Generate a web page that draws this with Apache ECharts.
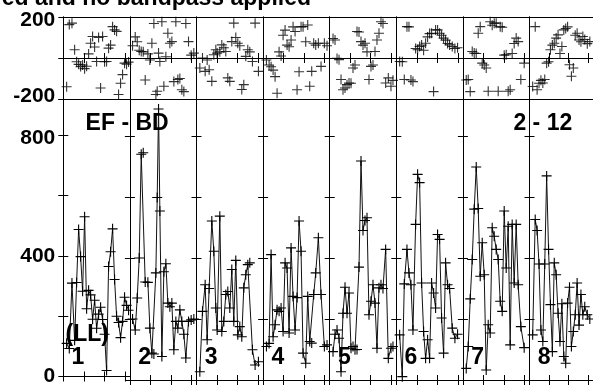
<!DOCTYPE html>
<html><head><meta charset="utf-8">
<script src="https://cdn.jsdelivr.net/npm/echarts@6/dist/echarts.min.js"></script>
<style>html,body{margin:0;padding:0;background:#fff;overflow:hidden}#c{width:593px;height:387px}</style>
</head><body><div id="c"></div>
<script>
// ---- data (time within each segment as fraction of the segment, amplitude, phase in degrees) ----
const segLabels = ['1','2','3','4','5','6','7','8'];
const phaseTicks = [-200, 0, 200];
const ampTicks = [0, 400, 800];

const t1 = [.05,.09,.13,.17,.20,.23,.26,.29,.32,.35,.38,.41,.44,.47,.50,.53,.56,.59,.62,.65,.68,.71,.74,.77,.80,.83,.86,.89,.92,.95,.98];
const amp1 = [110,93,310,120,312,488,398,283,530,225,286,271,190,253,160,207,230,189,140,20,365,414,490,322,200,179,129,183,263,236,220];
const ph1 = [-140,163,170,40,-18,-31,-42,-34,-52,-40,20,72,105,54,-17,100,-146,105,-18,-17,48,63,153,137,130,-178,-123,-81,-25,-30,-20];

const t2 = [.04,.08,.11,.14,.17,.20,.23,.27,.30,.33,.36,.39,.41,.43,.45,.48,.51,.54,.57,.60,.63,.66,.69,.72,.75,.78,.81,.84,.88,.92,.96];
const amp2 = [200,164,269,400,740,745,321,320,170,88,85,351,598,888,554,77,355,381,252,240,252,99,192,170,230,192,150,72,192,197,200];
const ph2 = [60,103,79,38,32,30,-107,20,-10,72,168,-178,-162,24,-17,177,-138,6,121,72,80,-115,177,-105,-100,-155,-164,168,80,14,24];

const t3 = [.05,.09,.13,.16,.19,.23,.26,.29,.31,.35,.38,.41,.44,.47,.50,.53,.56,.59,.62,.65,.68,.71,.74,.77,.80,.84,.88,.93];
const amp3 = [27,225,312,132,300,521,422,236,164,537,159,192,280,290,236,362,192,392,148,175,142,302,345,378,384,99,49,60];
const ph3 = [-49,0,-65,-10,-57,-114,16,40,24,30,64,50,32,-97,-114,80,170,100,72,60,-154,-130,8,40,30,-17,170,-65];

const t4 = [.05,.09,.12,.15,.18,.21,.24,.27,.30,.33,.36,.39,.42,.45,.48,.51,.54,.57,.60,.64,.67,.70,.73,.76,.79,.83,.87,.92,.96];
const amp4 = [110,120,411,142,181,230,225,236,159,384,367,154,433,274,164,270,521,422,88,55,274,126,121,280,351,466,280,110,115];
const ph4 = [-10,-34,-43,-59,-91,-172,30,10,111,136,63,55,88,152,129,-155,-67,152,153,79,161,-138,-65,72,63,72,-41,72,60];

const t5 = [.05,.08,.11,.14,.17,.20,.23,.26,.29,.32,.35,.38,.41,.44,.47,.50,.53,.56,.59,.62,.65,.68,.71,.74,.77,.80,.84,.88,.92,.95];
const amp5 = [93,150,164,137,27,219,304,219,285,104,110,99,100,370,718,490,523,532,214,258,312,252,104,302,312,300,428,71,104,110];
const ph5 = [95,88,-2,-8,-105,-155,-146,-130,-122,-123,-49,-34,129,127,80,63,72,30,-105,-41,-34,32,88,121,177,168,-122,-97,-138,-109];

const t6 = [.05,.09,.12,.16,.19,.22,.25,.29,.32,.35,.38,.41,.44,.47,.50,.53,.56,.59,.62,.65,.68,.71,.74,.77,.80,.84,.88,.92];
const amp6 = [148,11,315,428,351,312,164,510,674,647,318,159,71,132,71,318,285,236,477,461,203,88,384,312,300,170,137,150];
const ph6 = [-17,-18,-105,153,152,-107,-115,46,40,56,63,38,72,103,119,121,-164,137,137,121,111,97,87,71,64,56,46,50];

const t7 = [.05,.08,.11,.14,.17,.20,.23,.26,.29,.32,.35,.38,.41,.44,.47,.50,.53,.56,.59,.62,.65,.68,.71,.74,.77,.80,.83,.87,.92];
const amp7 = [38,110,266,395,560,698,562,340,450,345,33,181,154,499,471,428,395,258,225,554,367,504,115,510,318,510,312,175,106];
const ph7 = [-107,-105,-164,32,24,22,121,153,-25,-34,-49,-162,177,160,170,170,-162,153,150,14,16,-162,-155,22,71,97,80,-105,-25];

const t8 = [.05,.09,.12,.15,.18,.21,.24,.27,.30,.33,.36,.39,.42,.45,.48,.51,.54,.57,.60,.63,.66,.69,.72,.75,.78,.81,.84,.87,.91,.95];
const amp8 = [148,526,490,380,164,126,380,669,428,247,93,384,345,219,126,250,77,55,252,304,110,159,214,318,180,280,214,240,214,200];
const ph8 = [-139,153,-155,-123,-109,-122,-105,-25,-18,40,63,72,97,113,22,56,137,144,152,-33,-89,-49,111,121,88,79,105,90,70,80];

// ---- chart ----
const segs = [[t1,amp1,ph1],[t2,amp2,ph2],[t3,amp3,ph3],[t4,amp4,ph4],[t5,amp5,ph5],[t6,amp6,ph6],[t7,amp7,ph7],[t8,amp8,ph8]];
const FONT = '"Liberation Sans", Arial, Helvetica, sans-serif';
const X0 = 63.3, SW = 66.6, PTOP = 17, PH = 82, ATOP = 99, AH = 281;
const AMP_MAX = 921;
const plus = 'path://M0,5L10,5M5,0L5,10';
const axLine = {show:true, lineStyle:{color:'#000', width:1}};
const tick = {show:true, inside:true, length:5, lineStyle:{color:'#000', width:1}};

const grid = [], xAxis = [], yAxis = [], series = [];
segs.forEach((s, i) => {
  const left = X0 + SW * i;
  grid.push({left: left, top: PTOP, width: SW, height: PH});
  grid.push({left: left, top: ATOP, width: SW, height: AH});
  const gp = 2*i, ga = 2*i+1;
  const xa = (g, pos) => ({gridIndex:g, type:'value', min:0, max:1, interval:0.308, position:pos,
    axisLine:axLine, axisTick:tick, axisLabel:{show:false}, splitLine:{show:false}});
  xAxis.push(xa(gp,'bottom'), xa(gp,'top'), xa(ga,'bottom'), xa(ga,'top'));
  yAxis.push({gridIndex:gp, type:'value', min:-200, max:200, interval:200, position:'left',
    axisLine:axLine, axisTick:tick,
    splitLine:{show:true, lineStyle:{color:'#000', width:1}},
    axisLabel:{show:i===0, margin:8, color:'#000', fontFamily:FONT, fontWeight:'bold', fontSize:21,
      formatter: v => v === phaseTicks[2] ? '{a|' + v + '}' : (v === phaseTicks[0] ? '{b|' + v + '}' : ''),
      rich:{a:{fontFamily:FONT, fontWeight:'bold', fontSize:21, color:'#000', padding:[7,0,0,0]},
            b:{fontFamily:FONT, fontWeight:'bold', fontSize:21, color:'#000', padding:[0,0,5,0]}}}});
  yAxis.push({gridIndex:gp, type:'value', min:-200, max:200, interval:200, position:'right',
    axisLine:axLine, axisTick:tick, splitLine:{show:false}, axisLabel:{show:false}});
  yAxis.push({gridIndex:ga, type:'value', min:0, max:AMP_MAX, interval:200, position:'left',
    axisLine:axLine, axisTick:tick, splitLine:{show:false},
    axisLabel:{show:i===0, margin:8, color:'#000', fontFamily:FONT, fontWeight:'bold', fontSize:21,
      formatter: v => v === 800 ? '{c|800}' : (ampTicks.indexOf(v) >= 0 ? String(v) : ''),
      rich:{c:{fontFamily:FONT, fontWeight:'bold', fontSize:21, color:'#000', padding:[5,0,0,0]}}}});
  yAxis.push({gridIndex:ga, type:'value', min:0, max:AMP_MAX, interval:200, position:'right',
    axisLine:axLine, axisTick:tick, splitLine:{show:false}, axisLabel:{show:false}});

  const [t, a, p] = s;
  series.push({type:'scatter', xAxisIndex:4*i, yAxisIndex:4*i, symbol:plus, symbolSize:10,
    itemStyle:{color:'#000', borderColor:'#000', borderWidth:1.1}, silent:true,
    data: t.map((x, k) => [x, p[k]])});
  series.push({type:'line', xAxisIndex:4*i+2, yAxisIndex:4*i+2, symbol:plus, symbolSize:10, showSymbol:true,
    itemStyle:{color:'#000', borderColor:'#000', borderWidth:1.1}, lineStyle:{color:'#111', width:1},
    silent:true, animation:false, data: t.map((x, k) => [x, a[k]])});
});

const txt = (str, x, y, align) => ({type:'text', x:x, y:y, z:100,
  style:{text:str, fill:'#000', font:'bold 23px ' + FONT, textAlign:align||'left', verticalAlign:'middle'}});
const graphic = [
  txt('ed and no bandpass applied', 311, -1.5, 'right'),
  txt('EF - BD', 85.6, 123.7),
  txt('2 - 12', 513.4, 123.7),
  txt('(LL)', 65.6, 335),
];
segLabels.forEach((l, i) => graphic.push(txt(l, X0 + SW*i + 8.3, 358)));

const chart = echarts.init(document.getElementById('c'), null, {renderer:'canvas'});
chart.setOption({animation:false, backgroundColor:'#fff', grid, xAxis, yAxis, series, graphic});
</script></body></html>
